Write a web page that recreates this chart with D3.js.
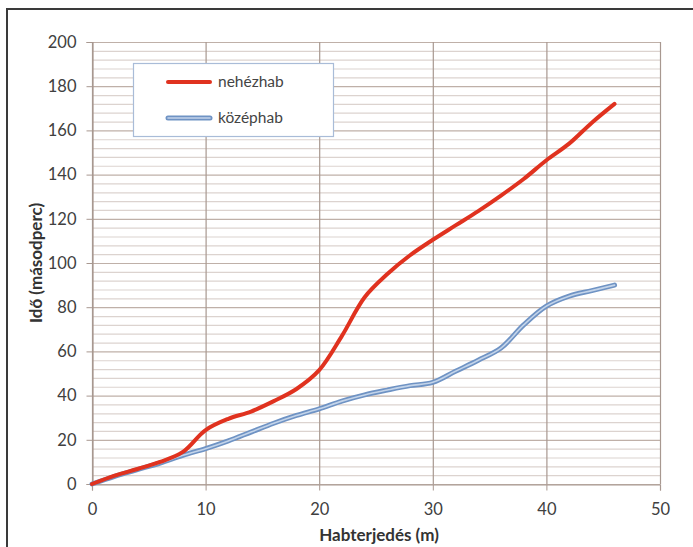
<!DOCTYPE html>
<html>
<head>
<meta charset="utf-8">
<script src="https://cdn.jsdelivr.net/npm/d3@7"></script>
<style>
  body { margin: 0; background: #fff; }
  .tick text { font-family: Lato, "Open Sans", sans-serif; font-size: 16.5px; fill: #404040; }
  .title { font-family: Lato, "Open Sans", sans-serif; font-size: 17px; font-weight: bold; fill: #333; }
  .leg { font-family: Lato, "Open Sans", sans-serif; font-size: 15.5px; fill: #444; }
</style>
</head>
<body>
<div id="chart"></div>
<script>
const width = 693, height = 547;

// distances in m
const distances = [0, 2, 4, 6, 8, 10, 12, 14, 16, 18, 20, 22, 24, 26, 28, 30, 32, 34, 36, 38, 40, 42, 44, 46];
// time in seconds
const nehezhab = [0, 3.8, 6.8, 10, 14.5, 24.4, 29.5, 32.8, 37.5, 43, 51.5, 67, 84.5, 95, 103.5, 110.5, 117, 123.5, 130.5, 138, 146.5, 154, 163.5, 172];
const kozephab = [0, 3.5, 6.5, 9.5, 13, 16, 19.5, 23.5, 27.5, 31, 34, 37.5, 40.3, 42.5, 44.5, 46, 51, 56, 61.5, 72, 80.5, 85, 87.5, 90];
const xTicks = [0, 10, 20, 30, 40, 50];
const yTicks = [0, 20, 40, 60, 80, 100, 120, 140, 160, 180, 200];
const seriesNames = ["nehézhab", "középhab"];

const mLeft = 92, mRight = 660, mTop = 42, mBottom = 484;

const svg = d3.select("#chart").append("svg")
  .attr("width", width).attr("height", height);

// outer frame
svg.append("path")
  .attr("d", `M7,${height} V9 H${width}`)
  .attr("fill", "none").attr("stroke", "#3a3a3a").attr("stroke-width", 2);

const x = d3.scaleLinear().domain([0, 50]).range([mLeft, mRight]);
const y = d3.scaleLinear().domain([0, 200]).range([mBottom, mTop]);

// minor horizontal grid
svg.append("g")
  .selectAll("line")
  .data(d3.range(0, 201, 4))
  .join("line")
  .attr("x1", mLeft).attr("x2", mRight)
  .attr("y1", d => y(d) + 0.5).attr("y2", d => y(d) + 0.5)
  .attr("stroke", d => d % 20 === 0 ? "#bfb0a8" : "#dcd3cf")
  .attr("stroke-width", 1.2);

// vertical grid
svg.append("g")
  .selectAll("line")
  .data(xTicks)
  .join("line")
  .attr("x1", d => x(d) + 0.5).attr("x2", d => x(d) + 0.5)
  .attr("y1", mTop).attr("y2", mBottom)
  .attr("stroke", "#a89890").attr("stroke-width", 1.2);

// axes
const yAxis = svg.append("g")
  .attr("transform", `translate(${mLeft + 0.5},0)`)
  .call(d3.axisLeft(y).tickValues(yTicks).tickSize(6).tickPadding(10));
const xAxis = svg.append("g")
  .attr("transform", `translate(0,${mBottom + 0.5})`)
  .call(d3.axisBottom(x).tickValues(xTicks).tickSize(6).tickPadding(13));
[yAxis, xAxis].forEach(a => {
  a.select(".domain").attr("stroke", "#a89890").attr("stroke-width", 1.2);
  a.selectAll(".tick line").attr("stroke", "#a89890");
  a.attr("font-family", null).attr("font-size", null);
});

svg.append("text").attr("class", "title")
  .attr("x", 379).attr("y", 541)
  .attr("text-anchor", "middle").text("Habterjedés (m)");
svg.append("text").attr("class", "title")
  .attr("transform", `translate(36,${(mTop + mBottom) / 2}) rotate(-90)`)
  .attr("text-anchor", "middle").attr("dy", "0.35em").text("Idő (másodperc)");

const line = d3.line()
  .x(d => x(d[0])).y(d => y(d[1]))
  .curve(d3.curveCatmullRom.alpha(0.5));

const blueData = d3.zip(distances, kozephab);
const redData = d3.zip(distances, nehezhab);

svg.append("path").datum(blueData)
  .attr("d", line).attr("fill", "none")
  .attr("stroke", "#6f93c4").attr("stroke-width", 5).attr("stroke-linecap", "round");
svg.append("path").datum(blueData)
  .attr("d", line).attr("fill", "none")
  .attr("stroke", "#c3d4ea").attr("stroke-width", 1.6).attr("stroke-linecap", "round");
svg.append("path").datum(redData)
  .attr("d", line).attr("fill", "none")
  .attr("stroke", "#e0321f").attr("stroke-width", 4).attr("stroke-linecap", "round");

// legend
const legend = svg.append("g");
legend.append("rect")
  .attr("x", 133.5).attr("y", 63.5).attr("width", 200).attr("height", 73)
  .attr("fill", "#fff").attr("stroke", "#a9bcd8").attr("stroke-width", 1.2);
const legRed = legend.append("g").attr("transform", "translate(0,82)");
legRed.append("line").attr("x1", 168).attr("x2", 210)
  .attr("stroke", "#e0321f").attr("stroke-width", 4).attr("stroke-linecap", "round");
legRed.append("text").attr("class", "leg").attr("x", 218).attr("dy", "0.35em").text(seriesNames[0]);
const legBlue = legend.append("g").attr("transform", "translate(0,118)");
legBlue.append("line").attr("x1", 168).attr("x2", 210)
  .attr("stroke", "#6f93c4").attr("stroke-width", 5).attr("stroke-linecap", "round");
legBlue.append("line").attr("x1", 168).attr("x2", 210)
  .attr("stroke", "#c3d4ea").attr("stroke-width", 1.6).attr("stroke-linecap", "round");
legBlue.append("text").attr("class", "leg").attr("x", 218).attr("dy", "0.35em").text(seriesNames[1]);
</script>
</body>
</html>
